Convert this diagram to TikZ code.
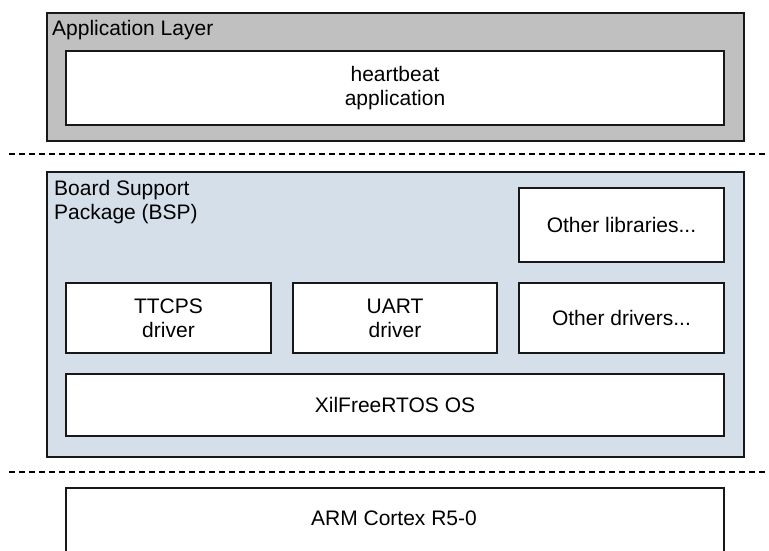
\documentclass[tikz,border=0pt]{standalone}
\usepackage{fontspec}
\setmainfont{Liberation Sans}
\definecolor{appgray}{RGB}{192,192,192}
\definecolor{bspblue}{RGB}{213,223,234}
\definecolor{edgeblack}{RGB}{24,24,24}
\tikzset{
  layerbox/.style={draw=edgeblack, line width=2pt, inner sep=0pt, anchor=north west},
  blockbox/.style={draw=edgeblack, line width=2pt, fill=white, inner sep=0pt, align=center, anchor=north west, font=\fontsize{21}{24}\selectfont},
  layertitle/.style={inner sep=0pt, align=left, font=\fontsize{21}{24}\selectfont},
  divider/.style={draw=black, line width=1.5pt, dash pattern=on 6pt off 4pt},
}
\begin{document}
\begin{tikzpicture}[x=1pt,y=-1pt]
\useasboundingbox (0,0) rectangle (769,550);
% application layer
\node[layerbox, fill=appgray, minimum width=697pt, minimum height=128pt] (app) at (46,12) {};
\node[layertitle, anchor=base west] (apptitle) at (52,35) {Application Layer};
\node[blockbox, minimum width=658pt, minimum height=74pt] (heartbeat) at (65,50) {heartbeat\\application};
% separators
\coordinate (sepa) at (9,154);
\coordinate (sepb) at (769,154);
\draw[divider] (sepa) -- (sepb);
% board support package
\node[layerbox, fill=bspblue, minimum width=697pt, minimum height=285pt] (bsp) at (46,171) {};
\node[layertitle, anchor=north west] (bsptitle) at (54,180) {Board Support\\Package (BSP)};
\node[blockbox, minimum width=205pt, minimum height=74pt] (libs) at (518,187) {Other libraries...};
\node[blockbox, minimum width=205pt, minimum height=70pt] (ttcps) at (65,282) {TTCPS\\driver};
\node[blockbox, minimum width=204pt, minimum height=70pt] (uart) at (292,282) {UART\\driver};
\node[blockbox, minimum width=205pt, minimum height=70pt] (drivers) at (518,282) {Other drivers...};
\node[blockbox, minimum width=658pt, minimum height=62pt] (rtos) at (65,373) {XilFreeRTOS OS};
\coordinate (sepc) at (9,472);
\coordinate (sepd) at (769,472);
\draw[divider] (sepc) -- (sepd);
% hardware (runs off the bottom edge)
\node[blockbox, minimum width=658pt, minimum height=90pt] (arm) at (65,487) {};
\node[layertitle] (armtext) at (394,518) {ARM Cortex R5-0};
\end{tikzpicture}
\end{document}
